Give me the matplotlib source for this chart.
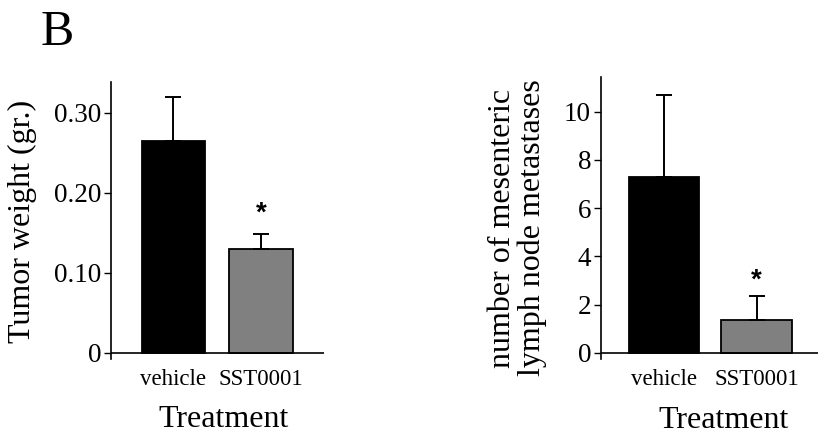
import numpy as np
import matplotlib
matplotlib.use("Agg")
import matplotlib.pyplot as plt

plt.rcParams['font.family'] = ['Liberation Serif', 'DejaVu Serif']

groups = ['vehicle', 'SST0001']
bar_colors = ['#000000', '#808080']

# panel 1: tumor weight
weight_mean = [0.264, 0.130]
weight_err = [0.055, 0.018]
weight_ticks = [0, 0.10, 0.20, 0.30]
weight_ticklabels = ['0', '0.10', '0.20', '0.30']
weight_star_y = 0.174

# panel 2: lymph node metastases
mets_mean = [7.28, 1.34]
mets_err = [3.42, 1.03]
mets_ticks = [0, 2, 4, 6, 8, 10]
mets_star_y = 3.0

fig = plt.figure(figsize=(8.19, 4.34), dpi=100)

ax1 = fig.add_axes([0.1355, 0.1728, 0.260, 0.638])
ax2 = fig.add_axes([0.7335, 0.1728, 0.2653, 0.649])


def draw_panel(ax, means, errs, width, ticks, ticklabels, star_y, ylim, xlim):
    x = np.arange(len(means))
    yerr = [np.zeros(len(errs)), errs]
    ax.bar(x, means, width=width, color=bar_colors, edgecolor='black', linewidth=1.3,
           yerr=yerr, error_kw=dict(ecolor='black', elinewidth=1.4, capsize=6, capthick=1.4),
           zorder=2)
    ax.axhline(0, color='black', linewidth=1.2, zorder=3)
    ax.set_xlim(*xlim)
    ax.set_ylim(*ylim)
    ax.set_yticks(ticks)
    ax.set_yticklabels(ticklabels)
    ax.set_xticks(x)
    ax.set_xticklabels(groups)
    ax.tick_params(axis='y', length=5, width=1, labelsize=19.5, pad=2)
    ax.tick_params(axis='x', length=0, labelsize=16.5, pad=7)
    for side in ['top', 'right', 'bottom']:
        ax.spines[side].set_visible(False)
    ax.spines['left'].set_linewidth(1.2)
    ax.text(1, star_y, '*', ha='center', va='center', fontsize=20,
            family='Liberation Sans', fontweight='bold')


draw_panel(ax1, weight_mean, weight_err, 0.72, weight_ticks, weight_ticklabels,
           weight_star_y, (-0.0079, 0.338), (-0.71, 1.718))
draw_panel(ax2, mets_mean, mets_err, 0.76, mets_ticks, [str(t) for t in mets_ticks],
           mets_star_y, (-0.26, 11.43), (-0.688, 1.666))

fig.text(0.0497, 0.896, 'B', fontsize=36, va='baseline', ha='left')
fig.text(0.2735, 0.016, 'Treatment', fontsize=23, ha='center', va='baseline')
fig.text(0.883, 0.014, 'Treatment', fontsize=23, ha='center', va='baseline')
fig.text(0.0269, 0.4896, 'Tumor weight (gr.)', fontsize=23, rotation=90,
         ha='center', va='center')
fig.text(0.632, 0.4747, 'number of mesenteric\nlymph node metastases', fontsize=23,
         rotation=90, ha='center', va='center', multialignment='center', linespacing=1.0)

fig.savefig('out.png', dpi=100)
